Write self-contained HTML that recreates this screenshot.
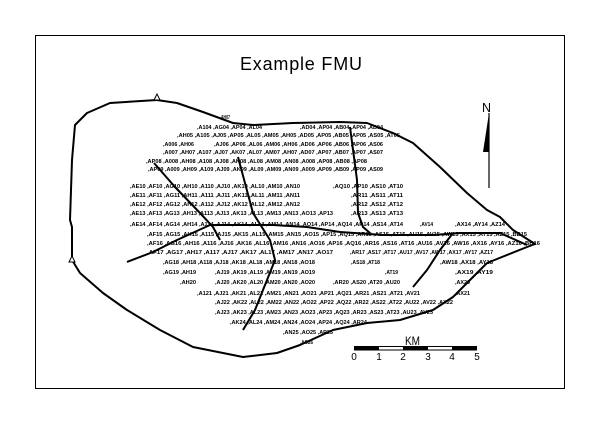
<!DOCTYPE html>
<html><head><meta charset="utf-8"><style>
html,body{margin:0;padding:0;background:#fff;}
svg{display:block;}
.l{font-family:"Liberation Sans",sans-serif;font-size:5.5px;font-weight:bold;fill:#000;}
</style></head><body>
<svg width="600" height="424" viewBox="0 0 600 424" xmlns="http://www.w3.org/2000/svg">
<rect x="35.5" y="35.5" width="529" height="353" fill="none" stroke="#000" stroke-width="1"/>
<text x="240" y="70" font-family="Liberation Sans, sans-serif" font-size="18" textLength="122" lengthAdjust="spacing" fill="#000">Example FMU</text>

<!-- boundary -->
<path d="M72,227 L70,220 L72,160 L75,125 L87,113 L110,103 L157,100 L177,103 L203,112 L233,123 L253,125 L293,123 L340,122 L367,123 L393,133 L413,143 L440,167 L467,193 L487,210 L500,217 L513,230 L535,244 L527,247 L487,263 L473,277 L453,297 L433,310 L400,320 L367,323 L333,330 L300,345 L277,353 L243,357 L193,347 L160,330 L127,310 L103,293 L80,273 L72,260 Z" fill="none" stroke="#000" stroke-width="2" stroke-linejoin="round"/>
<polygon points="157,94 154,100 160,100" fill="#fff" stroke="#000" stroke-width="1"/>
<polygon points="72,256 69,262 75,262" fill="#fff" stroke="#000" stroke-width="1"/>

<!-- internal lines -->
<g fill="none" stroke="#000" stroke-width="2" stroke-linejoin="round">
<path d="M127,262 L153,252 L177,240 L210,225 L247,225 L273,225 L307,227 L340,232 L383,235 L433,235 L460,233 L500,233 L527,245"/>
<path d="M154,163 L175,187 L200,213 L213,227 L220,240"/>
<path d="M238,157 L253,213 L270,240 L275,260 L255,310 L243,330"/>
<path d="M350,127 L357,180 L358,213 L363,227 L370,233"/>
<path d="M413,287 L427,270 L440,250 L453,233"/>
</g>

<!-- labels -->
<g class="l">
<text x="220" y="119" textLength="10" lengthAdjust="spacingAndGlyphs">,AH07</text>
<text x="197" y="129" textLength="65" lengthAdjust="spacingAndGlyphs">,A104 ,AG04 ,AP04 ,AL04</text>
<text x="300" y="129" textLength="83" lengthAdjust="spacingAndGlyphs">,AD04 ,AP04 ,AB04 ,AP04 ,AB04</text>
<text x="177" y="137" textLength="223" lengthAdjust="spacingAndGlyphs">,AH05 ,A105 ,AJ05 ,AP05 ,AL05 ,AM05 ,AH05 ,AD05 ,AP05 ,AB05 ,AP05 ,AS05 ,AT05</text>
<text x="163" y="146" textLength="31" lengthAdjust="spacingAndGlyphs">,A006 ,AH06</text>
<text x="214" y="146" textLength="169" lengthAdjust="spacingAndGlyphs">,AJ06 ,AP06 ,AL06 ,AM06 ,AH06 ,AD06 ,AP06 ,AB06 ,AP06 ,AS06</text>
<text x="163" y="154" textLength="220" lengthAdjust="spacingAndGlyphs">,A007 ,AH07 ,A107 ,AJ07 ,AK07 ,AL07 ,AM07 ,AH07 ,AD07 ,AP07 ,AB07 ,AP07 ,AS07</text>
<text x="146" y="163" textLength="221" lengthAdjust="spacingAndGlyphs">,AP08 ,A008 ,AH08 ,A108 ,AJ08 ,AK08 ,AL08 ,AM08 ,AN08 ,A008 ,AP08 ,AB08 ,AP08</text>
<text x="148" y="171" textLength="235" lengthAdjust="spacingAndGlyphs">,AP09 ,A009 ,AH09 ,A109 ,AJ09 ,AK09 ,AL09 ,AM09 ,AN09 ,A009 ,AP09 ,AB09 ,AP09 ,AS09</text>
<text x="130" y="188" textLength="170" lengthAdjust="spacingAndGlyphs">,AE10 ,AF10 ,AG10 ,AH10 ,A110 ,AJ10 ,AK10 ,AL10 ,AM10 ,AN10</text>
<text x="333" y="188" textLength="70" lengthAdjust="spacingAndGlyphs">,AQ10 ,AP10 ,AS10 ,AT10</text>
<text x="130" y="197" textLength="170" lengthAdjust="spacingAndGlyphs">,AE11 ,AF11 ,AG11 ,AH11 ,A111 ,AJ11 ,AK11 ,AL11 ,AM11 ,AN11</text>
<text x="351" y="197" textLength="52" lengthAdjust="spacingAndGlyphs">,AR11 ,AS11 ,AT11</text>
<text x="130" y="206" textLength="170" lengthAdjust="spacingAndGlyphs">,AE12 ,AF12 ,AG12 ,AH12 ,A112 ,AJ12 ,AK12 ,AL12 ,AM12 ,AN12</text>
<text x="351" y="206" textLength="52" lengthAdjust="spacingAndGlyphs">,AR12 ,AS12 ,AT12</text>
<text x="130" y="215" textLength="203" lengthAdjust="spacingAndGlyphs">,AE13 ,AF13 ,AG13 ,AH13 ,A113 ,AJ13 ,AK13 ,AL13 ,AM13 ,AN13 ,AO13 ,AP13</text>
<text x="351" y="215" textLength="52" lengthAdjust="spacingAndGlyphs">,AR13 ,AS13 ,AT13</text>
<text x="130" y="226" textLength="273" lengthAdjust="spacingAndGlyphs">,AE14 ,AF14 ,AG14 ,AH14 ,A114 ,AJ14 ,AK14 ,AL14 ,AM14 ,AN14 ,AO14 ,AP14 ,AQ14 ,AR14 ,AS14 ,AT14</text>
<text x="420" y="226" textLength="13" lengthAdjust="spacingAndGlyphs">,AV14</text>
<text x="455" y="226" textLength="50" lengthAdjust="spacingAndGlyphs">,AX14 ,AY14 ,AZ14</text>
<text x="147" y="236" textLength="380" lengthAdjust="spacingAndGlyphs">,AF15 ,AG15 ,AH15 ,A115 ,AJ15 ,AK15 ,AL15 ,AM15 ,AN15 ,AO15 ,AP15 ,AQ15 ,AR15 ,AS15 ,AT15 ,AU15 ,AV15 ,AW15 ,AX15 ,AY15 ,AZ15 ,BB15</text>
<text x="147" y="245" textLength="393" lengthAdjust="spacingAndGlyphs">,AF16 ,AG16 ,AH16 ,A116 ,AJ16 ,AK16 ,AL16 ,AM16 ,AN16 ,AO16 ,AP16 ,AQ16 ,AR16 ,AS16 ,AT16 ,AU16 ,AV16 ,AW16 ,AX16 ,AY16 ,AZ16 ,BB16</text>
<text x="147" y="254" textLength="186" lengthAdjust="spacingAndGlyphs">,AF17 ,AG17 ,AH17 ,A117 ,AJ17 ,AK17 ,AL17 ,AM17 ,AN17 ,AO17</text>
<text x="350" y="254" textLength="143" lengthAdjust="spacingAndGlyphs">,AR17 ,AS17 ,AT17 ,AU17 ,AV17 ,AW17 ,AX17 ,AY17 ,AZ17</text>
<text x="163" y="264" textLength="152" lengthAdjust="spacingAndGlyphs">,AG18 ,AH18 ,A118 ,AJ18 ,AK18 ,AL18 ,AM18 ,AN18 ,AO18</text>
<text x="351" y="264" textLength="29" lengthAdjust="spacingAndGlyphs">,AS18 ,AT18</text>
<text x="440" y="264" textLength="53" lengthAdjust="spacingAndGlyphs">,AW18 ,AX18 ,AY18</text>
<text x="163" y="274" textLength="33" lengthAdjust="spacingAndGlyphs">,AG19 ,AH19</text>
<text x="215" y="274" textLength="100" lengthAdjust="spacingAndGlyphs">,AJ19 ,AK19 ,AL19 ,AM19 ,AN19 ,AO19</text>
<text x="385" y="274" textLength="13" lengthAdjust="spacingAndGlyphs">,AT19</text>
<text x="455" y="274" textLength="38" lengthAdjust="spacingAndGlyphs">,AX19 ,AY19</text>
<text x="180" y="284" textLength="16" lengthAdjust="spacingAndGlyphs">,AH20</text>
<text x="215" y="284" textLength="100" lengthAdjust="spacingAndGlyphs">,AJ20 ,AK20 ,AL20 ,AM20 ,AN20 ,AO20</text>
<text x="333" y="284" textLength="67" lengthAdjust="spacingAndGlyphs">,AR20 ,AS20 ,AT20 ,AU20</text>
<text x="455" y="284" textLength="15" lengthAdjust="spacingAndGlyphs">,AX20</text>
<text x="197" y="295" textLength="223" lengthAdjust="spacingAndGlyphs">,A121 ,AJ21 ,AK21 ,AL21 ,AM21 ,AN21 ,AO21 ,AP21 ,AQ21 ,AR21 ,AS21 ,AT21 ,AV21</text>
<text x="455" y="295" textLength="15" lengthAdjust="spacingAndGlyphs">,AX21</text>
<text x="215" y="304" textLength="238" lengthAdjust="spacingAndGlyphs">,AJ22 ,AK22 ,AL22 ,AM22 ,AN22 ,AO22 ,AP22 ,AQ22 ,AR22 ,AS22 ,AT22 ,AU22 ,AV22 ,AX22</text>
<text x="215" y="314" textLength="218" lengthAdjust="spacingAndGlyphs">,AJ23 ,AK23 ,AL23 ,AM23 ,AN23 ,AO23 ,AP23 ,AQ23 ,AR23 ,AS23 ,AT23 ,AU23 ,AV23</text>
<text x="230" y="324" textLength="137" lengthAdjust="spacingAndGlyphs">,AK24 ,AL24 ,AM24 ,AN24 ,AO24 ,AP24 ,AQ24 ,AR24</text>
<text x="283" y="334" textLength="50" lengthAdjust="spacingAndGlyphs">,AN25 ,AO25 ,AP25</text>
<text x="300" y="344" textLength="13" lengthAdjust="spacingAndGlyphs">,AO26</text>
</g>

<!-- north arrow -->
<text x="482" y="112" font-family="Liberation Sans, sans-serif" font-size="13" fill="#000" textLength="9" lengthAdjust="spacingAndGlyphs">N</text>
<line x1="489" y1="113" x2="489" y2="188" stroke="#000" stroke-width="1.2"/>
<polygon points="489,113 483,152 489,152" fill="#000"/>

<!-- scale bar -->
<text x="405" y="345" font-family="Liberation Sans, sans-serif" font-size="12" fill="#000" textLength="15" lengthAdjust="spacingAndGlyphs">KM</text>
<rect x="354.5" y="346.5" width="122" height="3.5" fill="#fff" stroke="#000" stroke-width="1"/>
<rect x="354" y="346" width="25" height="4.5" fill="#000"/>
<rect x="403" y="346" width="25" height="4.5" fill="#000"/>
<rect x="452" y="346" width="25" height="4.5" fill="#000"/>
<g font-family="Liberation Sans, sans-serif" font-size="10" fill="#000" text-anchor="middle">
<text x="354" y="360">0</text><text x="379" y="360">1</text><text x="403" y="360">2</text>
<text x="428" y="360">3</text><text x="452" y="360">4</text><text x="477" y="360">5</text>
</g>
</svg>
</body></html>
